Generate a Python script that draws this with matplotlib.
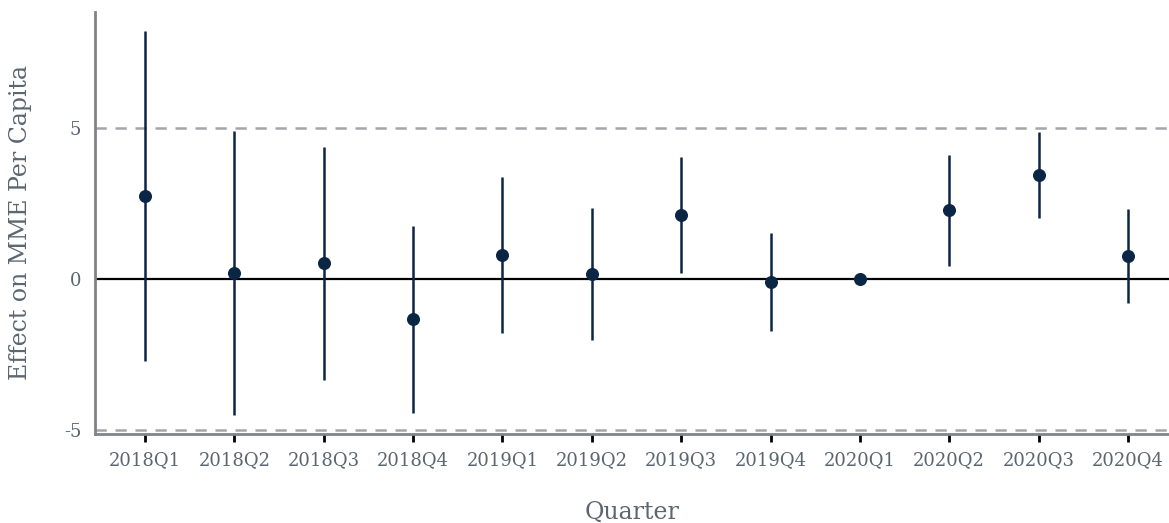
import matplotlib
matplotlib.use("Agg")
import matplotlib.pyplot as plt
import numpy as np

quarters = ["2018Q1", "2018Q2", "2018Q3", "2018Q4", "2019Q1", "2019Q2",
            "2019Q3", "2019Q4", "2020Q1", "2020Q2", "2020Q3", "2020Q4"]
estimates = [2.75, 0.20, 0.53, -1.32, 0.79, 0.17, 2.12, -0.10, 0.0, 2.28, 3.43, 0.75]
upper = [8.21, 4.90, 4.37, 1.75, 3.38, 2.35, 4.04, 1.52, 0.0, 4.11, 4.86, 2.31]
lower = [-2.72, -4.50, -3.34, -4.44, -1.79, -2.02, 0.20, -1.72, 0.0, 0.43, 2.03, -0.80]
yticks = [-5, 0, 5]

plt.rcParams['font.family'] = ['DejaVu Serif']
txt = '#5b6670'
dot = '#0b2545'

fig = plt.figure(figsize=(11.69, 5.23), dpi=100)
ax = fig.add_axes([0.0813, 0.170, 0.9187, 0.807])

x = np.arange(len(quarters))
ax.axhline(0, color='black', lw=1.6, zorder=1)
for lv in (5, -5):
    ax.axhline(lv, color='#a3a5aa', lw=1.8, ls=(0, (4.5, 3.5)), zorder=1)

for xi, lo, hi in zip(x, lower, upper):
    if hi != lo:
        ax.vlines(xi, lo, hi, color=dot, lw=1.8, zorder=2)
ax.scatter(x, estimates, s=70, color=dot, zorder=3)

ax.set_xlim(-0.56, 11.46)
ax.set_ylim(-5.13, 8.84)
ax.set_xticks(x)
ax.set_xticklabels(quarters, fontsize=13, color=txt)
ax.set_yticks(yticks)
ax.set_yticklabels([str(v) for v in yticks], fontsize=13, color=txt)
ax.tick_params(axis='x', length=6, width=2, color='black', pad=6)
ax.tick_params(axis='y', length=0, pad=10)

for s in ('top', 'right'):
    ax.spines[s].set_visible(False)
for s in ('left', 'bottom'):
    ax.spines[s].set_color('#808489')
    ax.spines[s].set_linewidth(2)

ax.set_xlabel("Quarter", fontsize=17, color=txt, va='center')
ax.xaxis.set_label_coords(0.5, -0.185)
ax.set_ylabel("Effect on MME Per Capita", fontsize=17, color=txt, va='center')
ax.yaxis.set_label_coords(-0.0698, 0.502)

fig.savefig("out.png", dpi=100)
